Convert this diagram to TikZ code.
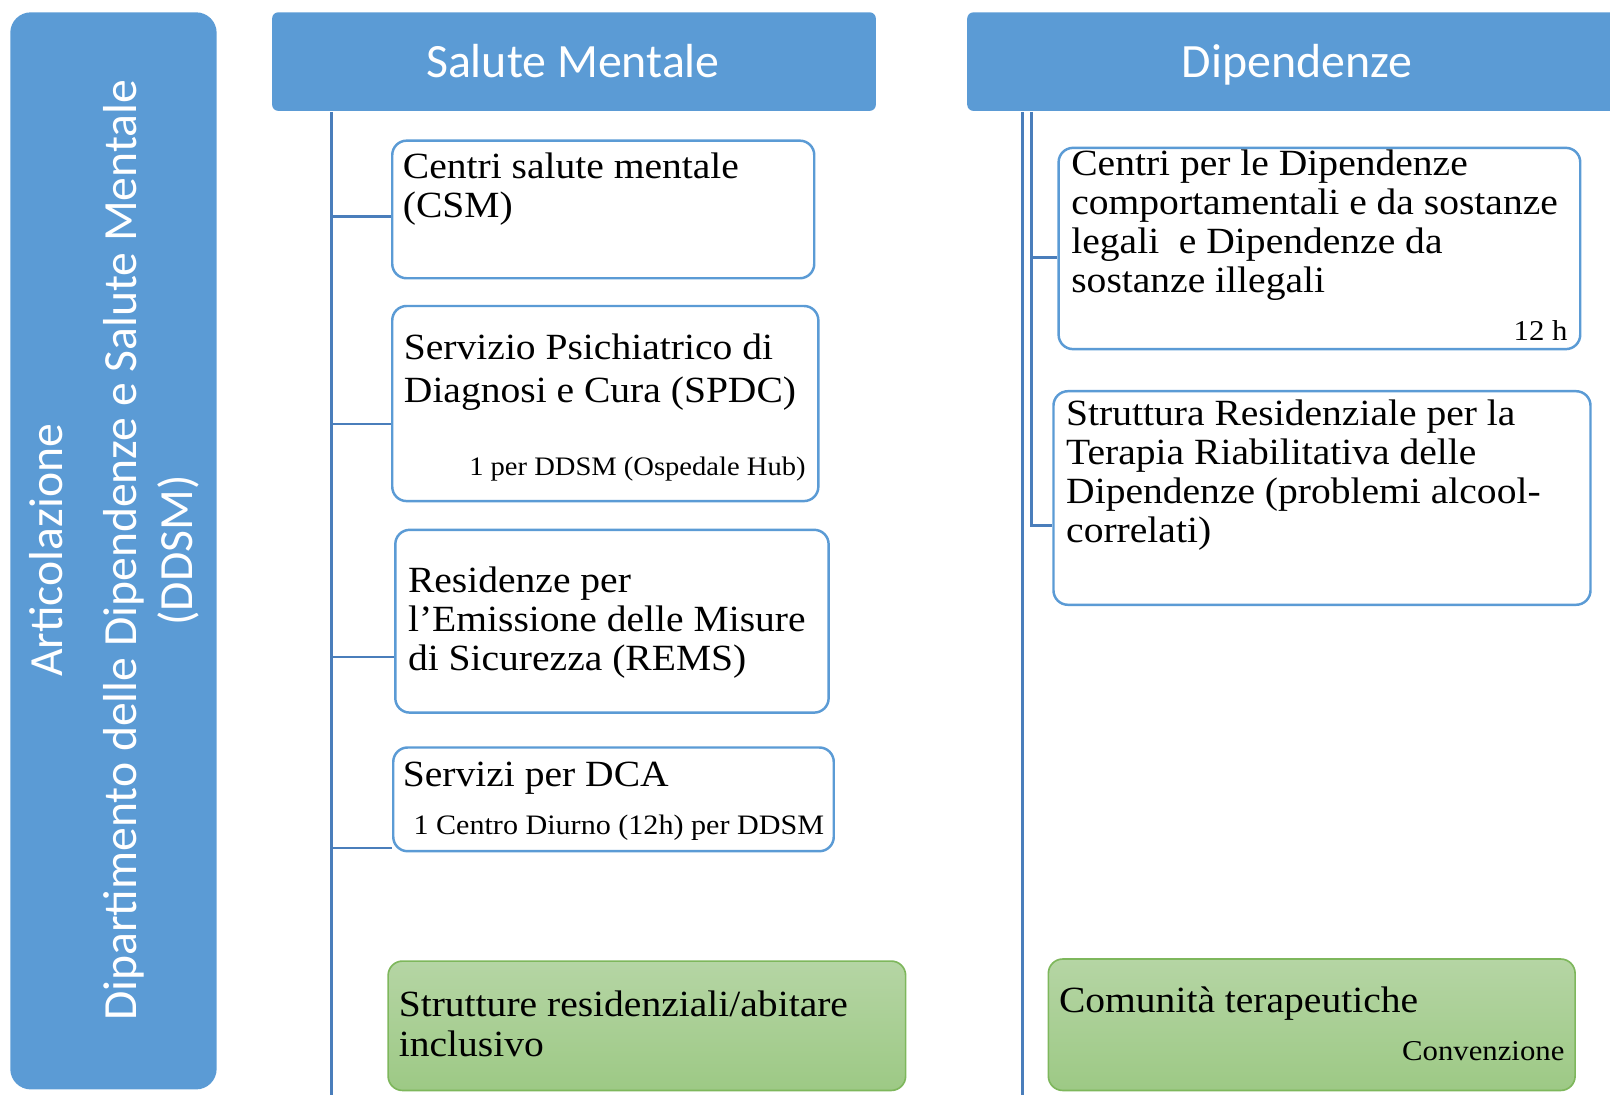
\documentclass[tikz,border=0pt]{standalone}
\usepackage{fontspec}
\setmainfont{Liberation Serif}[FakeStretch=1.07]
\setsansfont{Carlito}
\definecolor{hdr}{HTML}{5B9BD5}
\definecolor{conn}{HTML}{4A7EBB}
\definecolor{gtop}{HTML}{B5D5A4}
\definecolor{gbot}{HTML}{9DC985}
\definecolor{gedge}{HTML}{7EB75C}
\begin{document}
\begin{tikzpicture}[x=0.5pt,y=-0.5pt,
  hdrbox/.style={fill=hdr, draw=none, rounded corners=3pt, inner sep=0pt},
  sidebox/.style={fill=hdr, draw=none, rounded corners=10pt, inner sep=0pt},
  wbox/.style={draw=hdr, line width=1.2pt, fill=white, rounded corners=7pt, inner sep=0pt},
  gbox/.style={draw=gedge, line width=0.8pt, top color=gtop, bottom color=gbot, rounded corners=7pt, inner sep=0pt},
  conn/.style={draw=conn, line width=1.25pt},
  htxt/.style={text=white, font=\sffamily\fontsize{23.3pt}{27pt}\selectfont, inner sep=0pt, anchor=base},
  vtxt/.style={text=white, font=\sffamily\fontsize{23.2pt}{27pt}\selectfont, inner sep=0pt, anchor=base, rotate=90},
  btxt/.style={font=\fontsize{18pt}{19pt}\selectfont, inner sep=0pt, anchor=base west, align=left},
  stxt/.style={font=\fontsize{14pt}{16pt}\selectfont, inner sep=0pt, anchor=base east},
]
\useasboundingbox (0,0) rectangle (1568,1066);

% left side box
\node[sidebox, minimum width=100.5pt, minimum height=524.5pt] (side) at (110.5,536.5) {};
\node[vtxt] (s1) at (61,536) {Articolazione};
\node[vtxt] (s2) at (133,536) {Dipartimento delle Dipendenze e Salute Mentale};
\node[vtxt] (s3) at (187,536) {(DDSM)};

% headers
\node[hdrbox, minimum width=294pt, minimum height=48pt] (h1) at (559,60) {};
\node[htxt] (h1t) at (558,75) {Salute Mentale};
\node[hdrbox, minimum width=321pt, minimum height=48pt] (h2) at (1263,60) {};
\node[htxt] (h2t) at (1263,75) {Dipendenze};

% Salute Mentale boxes
\node[wbox, minimum width=205.5pt, minimum height=67pt] (csm) at (587.5,204) {};
\node[btxt] (csmt) at (392,212) {Centri salute mentale\\(CSM)};

\node[wbox, minimum width=207.5pt, minimum height=95pt] (spdc) at (589.5,393) {};
\node[btxt, font=\fontsize{18pt}{21pt}\selectfont] (spdct) at (393,392) {Servizio Psichiatrico di\\Diagnosi e Cura (SPDC)};
\node[stxt, font=\fontsize{13pt}{15pt}\selectfont] (spdcs) at (785,463) {1 per DDSM (Ospedale Hub)};

\node[wbox, minimum width=211pt, minimum height=89pt] (rems) at (596,605) {};
\node[btxt] (remst) at (397,653) {Residenze per\\l’Emissione delle Misure\\di Sicurezza (REMS)};

\node[wbox, minimum width=214.5pt, minimum height=50.5pt] (dca) at (597.5,778.5) {};
\node[btxt] (dcat) at (392,766) {Servizi per DCA};
\node[stxt, font=\fontsize{13.7pt}{16pt}\selectfont] (dcas) at (803,813) {1 Centro Diurno (12h) per DDSM};

\node[gbox, minimum width=252pt, minimum height=63pt] (g1) at (630,999) {};
\node[btxt, font=\fontsize{18pt}{19.5pt}\selectfont] (g1t) at (388,1029) {Strutture residenziali/abitare\\inclusivo};

% Dipendenze boxes
\node[wbox, minimum width=254pt, minimum height=98pt] (r1) at (1285,242) {};
\node[btxt] (r1t) at (1043,285) {Centri per le Dipendenze\\comportamentali e da sostanze\\legali\ \ e Dipendenze da\\sostanze illegali};
\node[stxt] (r1s) at (1527,332) {12 h};

\node[wbox, minimum width=261.5pt, minimum height=104pt] (r2) at (1287.5,485) {};
\node[btxt] (r2t) at (1038,528) {Struttura Residenziale per la\\Terapia Riabilitativa delle\\Dipendenze (problemi alcool-\\correlati)};

\node[gbox, minimum width=256.5pt, minimum height=64pt] (g2) at (1277.5,998) {};
\node[btxt] (g2t) at (1031,986) {Comunità terapeutiche};
\node[stxt] (g2s) at (1524,1033) {Convenzione};

% connectors Salute Mentale
\coordinate (v1top) at (323,109);
\coordinate (v1bot) at (323,1066);
\draw[conn] (v1top) -- (v1bot);
\coordinate (b1) at (323,211);
\coordinate (b2) at (323,413);
\coordinate (b3) at (323,640);
\coordinate (b4) at (323,826);
\draw[conn] (b1) -- (b1 -| csm.west);
\draw[conn] (b2) -- (b2 -| spdc.west);
\draw[conn] (b3) -- (b3 -| rems.west);
\draw[conn] (b4) -- (b4 -| dca.west);

% connectors Dipendenze
\coordinate (v2top) at (996,109);
\coordinate (v2bot) at (996,1066);
\draw[conn] (v2top) -- (v2bot);
\coordinate (v3top) at (1004.5,109);
\coordinate (v3bot) at (1004.5,513);
\draw[conn] (v3top) -- (v3bot);
\coordinate (c1) at (1004.5,251);
\coordinate (c2) at (1004.5,512);
\draw[conn] (c1) -- (c1 -| r1.west);
\draw[conn] (c2) -- (c2 -| r2.west);
\end{tikzpicture}
\end{document}
